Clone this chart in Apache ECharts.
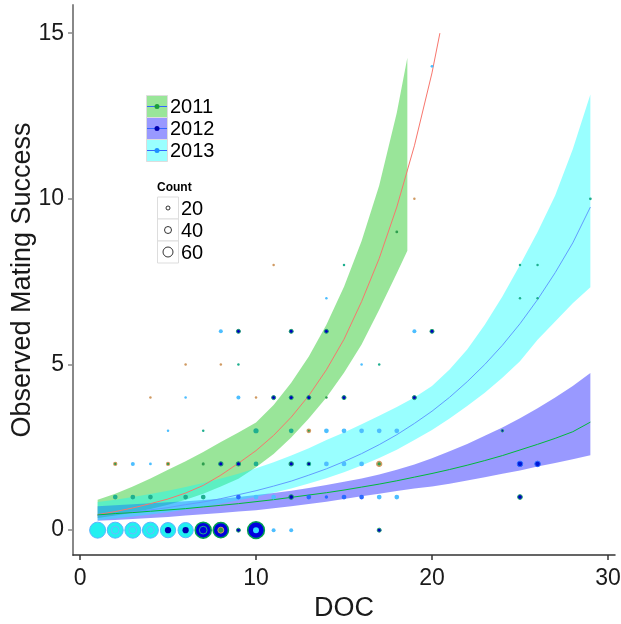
<!DOCTYPE html>
<html><head><meta charset="utf-8">
<script src="https://cdn.jsdelivr.net/npm/echarts@6/dist/echarts.min.js"></script>
<style>html,body{margin:0;padding:0;background:#fff}#c{width:621px;height:624px}</style>
</head><body><div id="c"></div>
<script>
// ---------- data ----------
const xTicks = [0, 10, 20, 30];
const yTicks = [0, 5, 10, 15];

// 2011 ribbon (green)
const g11x  = [1,2,3,4,5,6,7,8,9,10,11,12,13,14,15,16,17,18,18.6];
const g11lo = [0.37,0.44,0.53,0.64,0.77,0.92,1.1,1.32,1.55,1.9,2.3,2.8,3.37,4.0,4.75,5.6,6.65,7.75,8.43];
const g11hi = [0.92,1.1,1.32,1.56,1.82,2.08,2.36,2.66,2.95,3.25,3.78,4.45,5.24,6.2,7.35,8.73,10.4,12.6,14.26];
// red fitted line
const redX = [1,2,3,4,5,6,7,8,9,10,11,12,13,14,15,16,17,18,19,20,20.45];
const redY = [0.47,0.56,0.67,0.8,0.94,1.12,1.35,1.66,2.02,2.4,2.86,3.41,4.06,4.84,5.76,6.9,8.2,9.75,11.6,13.8,15.0];

// 2013 ribbon (cyan) and blue line
const cyX  = [1,2,3,4,5,6,7,8,9,10,11,12,13,14,15,16,17,18,19,20,21,22,23,24,25,26,27,28,29];
const cyLo = [0.3,0.35,0.41,0.47,0.54,0.62,0.71,0.8,0.9,1.01,1.13,1.26,1.41,1.57,1.75,1.95,2.18,2.43,2.72,3.02,3.37,3.75,4.15,4.6,5.1,5.75,6.3,6.85,7.33];
const cyHi = [0.85,0.92,1.0,1.09,1.19,1.3,1.42,1.56,1.7,1.87,2.05,2.25,2.47,2.72,2.95,3.2,3.45,3.72,4.0,4.35,4.85,5.45,6.2,7.05,8.0,9.0,10.1,11.5,13.15];
const blueY = [0.44,0.49,0.55,0.61,0.68,0.77,0.85,0.95,1.07,1.19,1.33,1.48,1.66,1.85,2.07,2.31,2.58,2.88,3.22,3.59,4.01,4.48,5.0,5.58,6.23,6.96,7.77,8.67,9.75];

// 2012 ribbon (purple) and green line
const puLo = [0.28,0.31,0.34,0.37,0.4,0.44,0.48,0.52,0.56,0.6,0.66,0.72,0.79,0.86,0.94,1.02,1.1,1.18,1.26,1.32,1.4,1.5,1.6,1.7,1.8,1.92,2.03,2.14,2.26];
const puHi = [0.72,0.75,0.78,0.81,0.84,0.87,0.91,0.95,1.0,1.06,1.12,1.19,1.27,1.36,1.46,1.56,1.68,1.82,1.98,2.17,2.38,2.6,2.85,3.1,3.38,3.68,4.0,4.35,4.74];
const greenY = [0.46,0.5,0.53,0.57,0.61,0.65,0.7,0.75,0.8,0.86,0.92,0.99,1.06,1.13,1.21,1.3,1.39,1.49,1.6,1.71,1.83,1.96,2.1,2.25,2.42,2.59,2.77,2.97,3.26];

// observed points [DOC, success, count]
const ptsLightBlue = [[20,14,12],[14,7,10],[8,6,20],[19,6,20],[16,5,10],[6,4,10],[9,4,20],[5,3,10],[14,3,25],[15,3,25],[16,3,25],[17,3,25],[18,3,25],[3,2,20],[4,2,12],[14,2,25],[15,2,25],[16,2,25],[10,1,25],[11,1,25],[17,1,25],[18,1,25],[11,0,20],[12,0,20]];
const ptsTeal = [[29,10,12],[15,8,10],[25,8,10],[26,8,10],[25,7,10],[26,7,10],[9,5,10],[17,5,10],[7,3,10],[10,3,28],[12,3,25],[10,2,25],[13,2,25],[2,1,25],[3,1,25],[4,1,25],[6,1,25],[7,1,25]];
const ptsDarkBlue = [[9,6,20],[12,6,20],[14,6,20],[20,6,20],[11,4,20],[12,4,20],[13,4,20],[15,4,20],[19,4,20],[24,3,10],[8,2,22],[9,2,22],[12,2,22],[12,1,25],[25,1,25],[9,0,20],[17,0,20]];
const ptsBlue = [[9,1,25],[13,1,25],[14,1,16],[15,1,25],[16,1,25]];
const ptsBlueDark = [[25,2,30],[26,2,30]];
const ptsGreen = [[18,9,12],[14,4,10],[7,2,14]];
const ptsOrange = [[19,10,10],[11,8,10],[6,5,10],[8,5,10],[4,4,10],[10,4,10]];
const ptsOrangeRing = [[2,2,22],[5,2,22],[13,3,25]];
const ptsGreenOrange = [[17,2,25]];
const bubCyan = [[1,0,100],[2,0,100],[3,0,100],[4,0,100],[5,0,95],[6,0,95]];
const bubDark = [[7,0,100],[8,0,95],[10,0,105]];
const innerRing = [[2,0,45],[3,0,45],[4,0,45]];
const innerDark = [[5,0,35],[6,0,35]];
const innerTealRing = [[7,0,45]];
const innerGreen = [[8,0,33]];
const innerCyan = [[10,0,33]];
const innerDarkSmall = [[13,2,12]];

const yearLabels = ['2011', '2012', '2013'];
const countLabels = ['20', '40', '60'];
const countValues = [20, 40, 60];

// ---------- chart ----------
const FONT = 'Liberation Sans, Arial, sans-serif';
const sz = c => 1 + 0.15 * c;
function pairs(xs, ys) { return xs.map((x, i) => [x, ys[i]]); }
function band(xs, lo, hi, fill, z) {
  return {
    type: 'custom', silent: true, z: z, clip: true,
    data: [[xs[0], lo[0]]],
    renderItem: (params, api) => {
      const pts = [];
      for (let i = 0; i < xs.length; i++) pts.push(api.coord([xs[i], hi[i]]));
      for (let i = xs.length - 1; i >= 0; i--) pts.push(api.coord([xs[i], lo[i]]));
      return { type: 'polygon', shape: { points: pts }, style: { fill: fill } };
    }
  };
}
function line(xs, ys, color) {
  return { type: 'line', data: pairs(xs, ys), showSymbol: false, symbol: 'none', silent: true, z: 3,
    lineStyle: { color: color, width: 1 } };
}
function pts(data, fill, border, bw, z) {
  return { type: 'scatter', data: data, silent: true, z: z || 4,
    symbolSize: v => sz(v[2]),
    itemStyle: { color: fill, borderColor: border || fill, borderWidth: bw || 0, opacity: 1 } };
}

const GREEN_FILL = 'rgba(0,191,0,0.4)';
const PURPLE_FILL = 'rgba(0,0,255,0.4)';
const CYAN_FILL = 'rgba(0,255,255,0.4)';

const graphic = [];
// year legend
const yearFills = ['#99E699', '#9999FF', '#99FFFF'];
const yearDots = ['#1A9E3A', '#0000B0', '#1E90FF'];
yearLabels.forEach((lab, i) => {
  const top = 95.5 + i * 22;
  graphic.push({ type: 'rect', shape: { x: 146.5, y: top, width: 21, height: 22 }, style: { fill: yearFills[i], stroke: '#DDDDDD', lineWidth: 1 } });
  graphic.push({ type: 'line', shape: { x1: 147, y1: top + 11, x2: 167, y2: top + 11 }, style: { stroke: '#3366FF', lineWidth: 1 } });
  graphic.push({ type: 'circle', shape: { cx: 157, cy: top + 11, r: 2.5 }, style: { fill: yearDots[i] } });
  graphic.push({ type: 'text', x: 170, y: top + 12, style: { text: lab, font: '20px ' + FONT, fill: '#000', verticalAlign: 'middle' } });
});
// count legend
graphic.push({ type: 'text', x: 157, y: 188, style: { text: 'Count', font: 'bold 12px ' + FONT, fill: '#000', verticalAlign: 'middle' } });
countLabels.forEach((lab, i) => {
  const top = 197 + i * 22;
  graphic.push({ type: 'rect', shape: { x: 157.5, y: top, width: 21, height: 22 }, style: { fill: '#fff', stroke: '#DDDDDD', lineWidth: 1 } });
  graphic.push({ type: 'circle', shape: { cx: 168, cy: top + 11, r: sz(countValues[i]) / 2 }, style: { fill: '#fff', stroke: '#000', lineWidth: 0.8 } });
  graphic.push({ type: 'text', x: 181, y: top + 12, style: { text: lab, font: '20px ' + FONT, fill: '#000', verticalAlign: 'middle' } });
});

const option = {
  animation: false,
  backgroundColor: '#fff',
  textStyle: { fontFamily: FONT },
  grid: { left: 73, right: 6, top: 5, bottom: 69, containLabel: false, outerBoundsMode: 'none' },
  xAxis: {
    type: 'value', min: -0.4, max: 30.4,
    name: 'DOC', nameLocation: 'middle', nameGap: 37,
    nameTextStyle: { fontSize: 27, color: '#1a1a1a', fontFamily: FONT },
    axisLine: { show: true, onZero: false, lineStyle: { color: '#333', width: 1.5 } },
    axisTick: { show: true, length: 5, customValues: xTicks, lineStyle: { color: '#333', width: 1.5 } },
    axisLabel: { customValues: xTicks, fontSize: 23, color: '#1a1a1a', margin: 12, fontFamily: FONT },
    splitLine: { show: false }
  },
  yAxis: {
    type: 'value', min: -0.75, max: 15.85,
    name: 'Observed Mating Success', nameLocation: 'middle', nameGap: 37, nameMoveOverlap: false,
    nameTextStyle: { fontSize: 27, color: '#1a1a1a', fontFamily: FONT },
    axisLine: { show: true, onZero: false, lineStyle: { color: '#888', width: 2 } },
    axisTick: { show: true, length: 5, customValues: yTicks, lineStyle: { color: '#888', width: 1.5 } },
    axisLabel: { customValues: yTicks, fontSize: 23, color: '#1a1a1a', margin: 9, fontFamily: FONT },
    splitLine: { show: false }
  },
  graphic: graphic,
  series: [
    band(g11x, g11lo, g11hi, GREEN_FILL, 1),
    band(cyX, puLo, puHi, PURPLE_FILL, 1),
    band(cyX, cyLo, cyHi, CYAN_FILL, 1),
    line(redX, redY, '#F8766D'),
    line(cyX, blueY, '#619CFF'),
    line(cyX, greenY, '#00BA38'),
    pts(bubCyan, '#22F0F0', '#5AB4FF', 1, 4),
    pts(bubDark, '#0000DD', '#00A050', 1.5, 4),
    pts(innerRing, 'rgba(0,0,0,0)', '#6CB8FF', 1, 5),
    pts(innerDark, '#0000B0', '#0000B0', 0, 5),
    pts(innerTealRing, 'rgba(0,0,0,0)', '#1FAF8F', 1, 5),
    pts(innerGreen, '#2EA04A', '#D09A62', 1, 5),
    pts(innerCyan, '#33DDFF', '#33DDFF', 0, 5),
    pts(ptsLightBlue, '#4DBEFF', '#4DBEFF', 0, 4),
    pts(ptsTeal, '#1FAF8F', '#1FAF8F', 0, 4),
    pts(ptsDarkBlue, '#0000C0', '#1FA070', 1, 4),
    pts(ptsBlue, '#2A6BFF', '#2A6BFF', 0, 4),
    pts(ptsBlueDark, '#0018D8', '#2A6BFF', 1, 4),
    pts(ptsGreen, '#2E9E4E', '#2E9E4E', 0, 4),
    pts(ptsOrange, '#D09A62', '#D09A62', 0, 4),
    pts(ptsOrangeRing, '#D09A62', '#D09A62', 0, 4),
    pts(ptsOrangeRing.map(p => [p[0], p[1], 8]), '#2E9E4E', '#2E9E4E', 0, 5),
    pts(ptsGreenOrange, '#2E9E4E', '#D09A62', 1.5, 4),
    pts(innerDarkSmall, '#0000A0', '#0000A0', 0, 5)
  ]
};
echarts.init(document.getElementById('c'), null, { renderer: 'canvas' }).setOption(option);
</script>
</body></html>
